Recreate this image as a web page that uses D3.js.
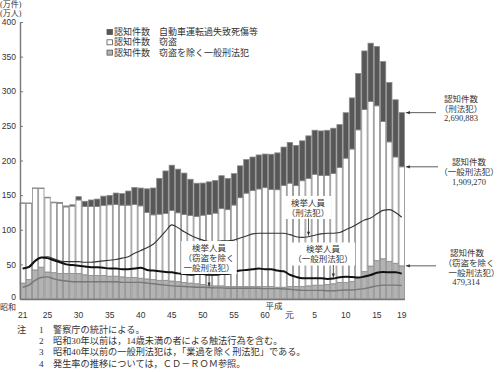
<!DOCTYPE html>
<html>
<head>
<meta charset="utf-8">
<script src="https://cdn.jsdelivr.net/npm/d3@7"></script>
<style>
body { margin: 0; background: #fff; }
svg { display: block; font-family: "Liberation Serif", "DejaVu Serif", "Noto Sans CJK JP", serif; }
</style>
</head>
<body>
<svg width="500" height="372"></svg>
<script>
// Years: Showa 21-63, Heisei 1-19
const years = [...d3.range(21, 64).map(n => 'S' + n), ...d3.range(1, 20).map(n => 'H' + n)]
const tickYears = ['S21', 'S25', 'S30', 'S35', 'S40', 'S45', 'S50', 'S55', 'S60', 'H1', 'H5', 'H10', 'H15', 'H19']
const tickText = ['21', '25', '30', '35', '40', '45', '50', '55', '60', '元', '5', '10', '15', '19']
const yTicks = [0, 50, 100, 150, 200, 250, 300, 350, 400]

// 認知件数 (万件)
const otherCases = [23, 28, 42, 46, 39, 38, 37, 37, 37, 37,
  35, 34, 34, 34, 33, 33, 32, 31, 31, 30,
  29, 28, 27, 27, 26, 25, 24, 23, 22, 21,
  20, 19, 19, 18, 18, 18, 18, 18, 18, 18,
  18, 17, 17, 18, 18, 18, 19, 20, 20, 21,
  22, 24, 24, 25.5, 31, 39.5, 47.6, 55.4, 58.1, 54.4,
  51.6, 47.9]
const theftCases = [115.4, 110.3, 118.0, 113.8, 107.2, 101.0, 101.4, 96.0, 97.2, 106.0,
  98.5, 99.5, 99.5, 101.0, 103.0, 103.5, 103.5, 104.5, 105.5, 104.5,
  96.0, 93.5, 95.5, 96.5, 102.0, 99.5, 98.0, 97.5, 97.0, 100.0,
  102.0, 105.0, 111.5, 111.0, 117.7, 128.3, 134.8, 138.5, 140.9, 142.8,
  140.1, 140.8, 147.1, 149.3, 145.7, 152.8, 155.2, 160.1, 158.4, 157.3,
  159.2, 166.0, 179.4, 191.1, 213.3, 234.1, 237.8, 223.6, 198.2, 172.5,
  153.5, 143.0]
const trafficCases = [0.3, 0.3, 0.3, 0.5, 0.8, 0.9, 1.1, 1.4, 1.8, 4.8,
  7.6, 9.5, 10.8, 13.5, 13.6, 16.5, 16.7, 20.4, 24.5, 25.7,
  34.1, 38.8, 51.7, 61.4, 65.2, 63.0, 59.8, 52.4, 48.2, 46.4,
  47.2, 47.2, 47.5, 45.0, 45.3, 46.0, 48.5, 48.5, 49.1, 48.5,
  50.9, 53.2, 55.3, 58.8, 58.1, 57.6, 61.4, 63.6, 64.3, 65.3,
  65.4, 61.8, 65.6, 73.8, 81.3, 84.6, 84.0, 85.6, 86.5, 85.6,
  82.6, 78.2]

// 検挙人員 (万人)
const arrestTotal = [44, 47, 55, 60, 61, 58, 55, 54, 54, 54,
  53, 53, 54, 55, 56, 57, 59, 61, 66, 70,
  74, 79, 88, 98, 107, 103, 97, 92, 88, 85,
  83, 83, 84, 84, 85, 88, 91, 94, 95, 95,
  95, 95, 95, 93, 90, 89, 90, 92, 94, 95,
  95, 96, 100, 104, 109, 114, 117, 123, 128, 129,
  125, 118]
const arrestGeneral = [44, 46, 55, 60, 59, 56, 53, 50, 49, 48,
  47, 46, 46, 45, 44, 44, 43, 43, 44, 45,
  42, 41, 40, 39, 38.5, 37, 36, 35, 36, 36,
  35, 35, 36, 36, 39, 41, 42, 43, 44, 43,
  43, 41, 40, 35, 32, 30, 30, 30, 30, 29,
  29.5, 31.5, 32, 31.6, 30.9, 32.5, 34.7, 37.9, 38.9, 38.7,
  38.5, 36.6]
const arrestOther = [17, 20, 27, 31, 32, 29, 27, 26, 25, 25,
  25, 25, 25, 25, 25, 25, 24, 24, 24, 24,
  23, 22, 21, 20, 19, 18.5, 18, 17.5, 17, 17,
  16.5, 16, 16, 15.5, 15.5, 15.5, 15.5, 15.5, 15.5, 15,
  15, 15, 14.5, 14, 13, 12.5, 12.5, 12.5, 12.5, 12,
  12, 12.5, 13, 13, 14, 15, 17, 19, 20, 20,
  20, 19.5]

const notes = [
  ['注', '1', '警察庁の統計による。'],
  ['', '2', '昭和30年以前は，14歳未満の者による触法行為を含む。'],
  ['', '3', '昭和40年以前の一般刑法犯は，「業過を除く刑法犯」である。'],
  ['', '4', '発生率の推移については，ＣＤ－ＲＯＭ参照。']
]

const keys = ['other', 'theft', 'traffic']
const fills = { other: '#b3b3b3', theft: '#ffffff', traffic: '#575757' }
const legendText = {
  traffic: '認知件数　自動車運転過失致死傷等',
  theft: '認知件数　窃盗',
  other: '認知件数　窃盗を除く一般刑法犯'
}

const table = years.map((yr, i) => ({
  year: yr, other: otherCases[i], theft: theftCases[i], traffic: trafficCases[i]
}))

const svg = d3.select('svg')
const x = d3.scaleBand().domain(years).range([20, 404.4]).paddingInner(0.14)
const y = d3.scaleLinear().domain([0, 400]).range([299, 22])
const cx = yr => x(yr) + x.bandwidth() / 2

// Bars
const series = d3.stack().keys(keys)(table)
svg.append('g').selectAll('g').data(series).join('g')
  .attr('fill', d => fills[d.key])
  .attr('stroke', '#8a8a8a')
  .attr('stroke-width', 0.8)
  .selectAll('rect').data(d => d).join('rect')
    .attr('x', d => x(d.data.year))
    .attr('y', d => y(d[1]))
    .attr('width', x.bandwidth())
    .attr('height', d => y(d[0]) - y(d[1]))

// Lines
const line = arr => d3.line()
  .x((d, i) => cx(years[i]))
  .y(d => y(d))
  .curve(d3.curveMonotoneX)(arr)

svg.append('path').attr('d', line(arrestOther))
  .attr('fill', 'none').attr('stroke', '#777').attr('stroke-width', 1.4)
svg.append('path').attr('d', line(arrestTotal))
  .attr('fill', 'none').attr('stroke', '#333').attr('stroke-width', 1.1)
svg.append('path').attr('d', line(arrestGeneral))
  .attr('fill', 'none').attr('stroke', '#111').attr('stroke-width', 2)

// Axes
const yAxis = svg.append('g').attr('transform', 'translate(20,0)')
  .call(d3.axisLeft(y).tickValues(yTicks).tickSizeInner(-3).tickSizeOuter(0).tickPadding(4))
yAxis.select('.domain').attr('stroke', '#777').attr('stroke-width', 1.4)
yAxis.selectAll('.tick line').attr('stroke', '#777')
yAxis.selectAll('text').attr('font-size', 8.5).attr('fill', '#333').attr('font-family', null)
yAxis.selectAll('.tick').filter(d => d === 0).select('text').attr('dy', '0.05em')

const labelOf = d => tickText[tickYears.indexOf(d)]
const xAxis = svg.append('g').attr('transform', 'translate(0,299)')
  .call(d3.axisBottom(x).tickValues(tickYears).tickFormat(labelOf).tickSize(0).tickPadding(13))
xAxis.select('.domain').attr('stroke', '#777').attr('stroke-width', 1.4)
xAxis.selectAll('text').attr('font-size', 8.5).attr('fill', '#333').attr('font-family', null)

const small = (tx, ty, t, size = 8.5, anchor = 'start') => svg.append('text')
  .attr('x', tx).attr('y', ty).attr('font-size', size).attr('fill', '#333')
  .attr('text-anchor', anchor).attr('dominant-baseline', 'central').text(t)

small(0, 4, '(万件)', 8)
small(0, 13, '(万人)', 8)
small(0, 307.5, '昭和', 8)
small(274, 306, '平成', 8.5, 'middle')

// Legend
const legend = svg.append('g').attr('transform', 'translate(107,32)')
;['traffic', 'theft', 'other'].forEach((k, i) => {
  legend.append('rect').attr('x', 0).attr('y', i * 10.3 - 2.5).attr('width', 5.5).attr('height', 5)
    .attr('fill', fills[k]).attr('stroke', '#555').attr('stroke-width', 0.8)
  legend.append('text').attr('x', 7).attr('y', i * 10.3).attr('font-size', 9)
    .attr('fill', '#333').attr('dominant-baseline', 'central').text(legendText[k])
})

// Arrow helper
function arrow (x1, y1, x2, y2) {
  svg.append('line').attr('x1', x1).attr('y1', y1).attr('x2', x2).attr('y2', y2)
    .attr('stroke', '#333').attr('stroke-width', 0.8)
  const a = Math.atan2(y2 - y1, x2 - x1)
  const p = [[x2, y2],
    [x2 - 4 * Math.cos(a) + 1.6 * Math.sin(a), y2 - 4 * Math.sin(a) - 1.6 * Math.cos(a)],
    [x2 - 4 * Math.cos(a) - 1.6 * Math.sin(a), y2 - 4 * Math.sin(a) + 1.6 * Math.cos(a)]]
  svg.append('path').attr('d', 'M' + p.join('L') + 'Z').attr('fill', '#333')
}

// Right annotations for the last year
const last = years[years.length - 1]
const li = years.length - 1
const barRight = x(last) + x.bandwidth() + 1.5
const totalLast = otherCases[li] + theftCases[li] + trafficCases[li]
const generalLast = otherCases[li] + theftCases[li]

arrow(436, y(totalLast), barRight, y(totalLast))
small(461, 99, '認知件数', 8.5, 'middle')
small(461, 108.5, '（刑法犯）', 8.5, 'middle')
small(461, 118, '2,690,883', 8.5, 'middle')

arrow(438, y(generalLast), barRight, y(generalLast))
small(469, 162, '認知件数', 8.5, 'middle')
small(469, 172, '（一般刑法犯）', 8.5, 'middle')
small(469, 182, '1,909,270', 8.5, 'middle')

arrow(436, y(otherCases[li]), barRight, y(otherCases[li]))
small(467, 253, '認知件数', 8.5, 'middle')
small(469, 263, '（窃盗を除く', 8.5, 'middle')
small(474, 272.5, '一般刑法犯）', 8.5, 'middle')
small(466, 282, '479,314', 8.5, 'middle')

// In-plot labels with white boxes
function boxLabel (bx, by, lines, yr, arr) {
  const w = d3.max(lines, t => t.length) * 8.6 + 4
  const h = lines.length * 10 + 3
  svg.append('rect').attr('x', bx - w / 2).attr('y', by - 6.5).attr('width', w).attr('height', h)
    .attr('fill', '#fff')
  lines.forEach((t, i) => small(bx, by + i * 10, t, 8.5, 'middle'))
  const ax = cx(yr)
  arrow(ax, by + (lines.length - 1) * 10 + 6, ax, y(arr[years.indexOf(yr)]) - 1)
}

boxLabel(308, 202.5, ['検挙人員', '（刑法犯）'], 'H4', arrestTotal)
boxLabel(323, 249, ['検挙人員', '（一般刑法犯）'], 'H8', arrestGeneral)
boxLabel(209, 247.5, ['検挙人員', '（窃盗を除く', '一般刑法犯）'], 'S51', arrestOther)

// Notes
notes.forEach((n, i) => {
  const ny = 329.5 + i * 11.4
  small(17, ny, n[0], 9.2)
  small(39, ny, n[1], 9.2)
  small(53, ny, n[2], 9.2)
})
</script>
</body>
</html>
